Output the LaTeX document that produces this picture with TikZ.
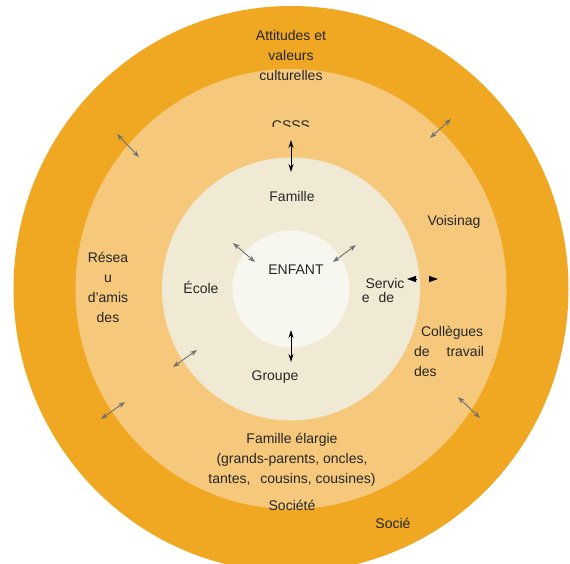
\documentclass[tikz,border=0pt]{standalone}
\usepackage{fontspec}
\setmainfont{Liberation Sans}
\usetikzlibrary{arrows.meta}
\definecolor{societe}{HTML}{F0A823}
\definecolor{voisin}{HTML}{F5C87C}
\definecolor{famille}{HTML}{F0EAD4}
\definecolor{enfant}{HTML}{F8F7EF}
\definecolor{texte}{HTML}{262626}
\definecolor{fleche}{HTML}{6F6F6F}

\begin{document}
\begin{tikzpicture}[x=1pt,y=1pt,
    lbl/.style={text=texte,font=\fontsize{14}{20}\selectfont,inner sep=0pt,align=center},
    garrow/.style={{Stealth[length=7pt,width=5pt]}-{Stealth[length=7pt,width=5pt]},fleche,line width=0.9pt},
    barrow/.style={{Stealth[length=8pt,width=5pt]}-{Stealth[length=8pt,width=5pt]},black,line width=0.9pt},
    btip/.style={-{Triangle[length=9pt,width=6pt]},black,line width=0.9pt}]

    \useasboundingbox (-291,-274) rectangle (279,289);

    % les cercles
    \fill[societe] (0,0) ellipse [x radius=277.5, y radius=283];
    \fill[voisin] (0,0) ellipse [x radius=215.5, y radius=220];
    \fill[famille] (0,0) ellipse [x radius=129, y radius=131.5];
    \fill[enfant] (0,0) circle [radius=58.5];

    % textes
    \node[lbl] (attitudes) at (0,234) {Attitudes et\\valeurs\\culturelles};
    \begin{scope}
        \clip (-40,162.5) rectangle (40,180);
        \node[lbl] (csss) at (0,163) {CSSS};
    \end{scope}
    \node[lbl] (famille) at (1,93) {Famille};
    \node[lbl] (voisinage) at (163,67) {Voisinag};
    \node[lbl] (reseau) at (-183,2) {Résea\\u\\d’amis\\des};
    \node[lbl] (ecole) at (-90,2) {École};
    \node[lbl] (enfant) at (5,19) {ENFANT};
    \node[lbl] (servic) at (94,6) {Servic};
    \node[lbl] (servde) at (87,-8) {e\hspace{9pt}de};
    \node[lbl,text width=70pt,align=left] (collegues) at (158,-62)
        {\hspace*{7pt}Collègues\\de\hfill travail\\des};
    \node[lbl] (groupe) at (-16,-88) {Groupe};
    \node[lbl] (elargie) at (1,-171)
        {Famille élargie\\(grands-parents, oncles,\\tantes,\hspace{10pt}cousins, cousines)};
    \node[lbl] (societe) at (1,-216) {Société};
    \node[lbl] (socie) at (102,-234) {Socié};

    % fleches
    \coordinate (ht) at (0,149);
    \coordinate (hb) at (0,117);
    \draw[barrow] (ht) -- (hb);
    \coordinate (bt) at (0,-41);
    \coordinate (bb) at (0,-73);
    \draw[barrow] (bt) -- (bb);
    \coordinate (tg) at (125,10);
    \coordinate (tga) at (116,10);
    \draw[btip] (tg) -- (tga);
    \coordinate (td) at (138,10);
    \coordinate (tda) at (147,10);
    \draw[btip] (td) -- (tda);

    \foreach \ax/\ay/\bx/\by [count=\i] in {-58/46/-36/27, 42/27/65/44, -118/-78/-94/-61,
        -174/155/-152/132, 139/151/160/170, -190/-130/-166/-113, 167/-108/189/-129}
    {
        \coordinate (ga\i) at (\ax,\ay);
        \coordinate (gb\i) at (\bx,\by);
        \draw[garrow] (ga\i) -- (gb\i);
    }

\end{tikzpicture}
\end{document}
